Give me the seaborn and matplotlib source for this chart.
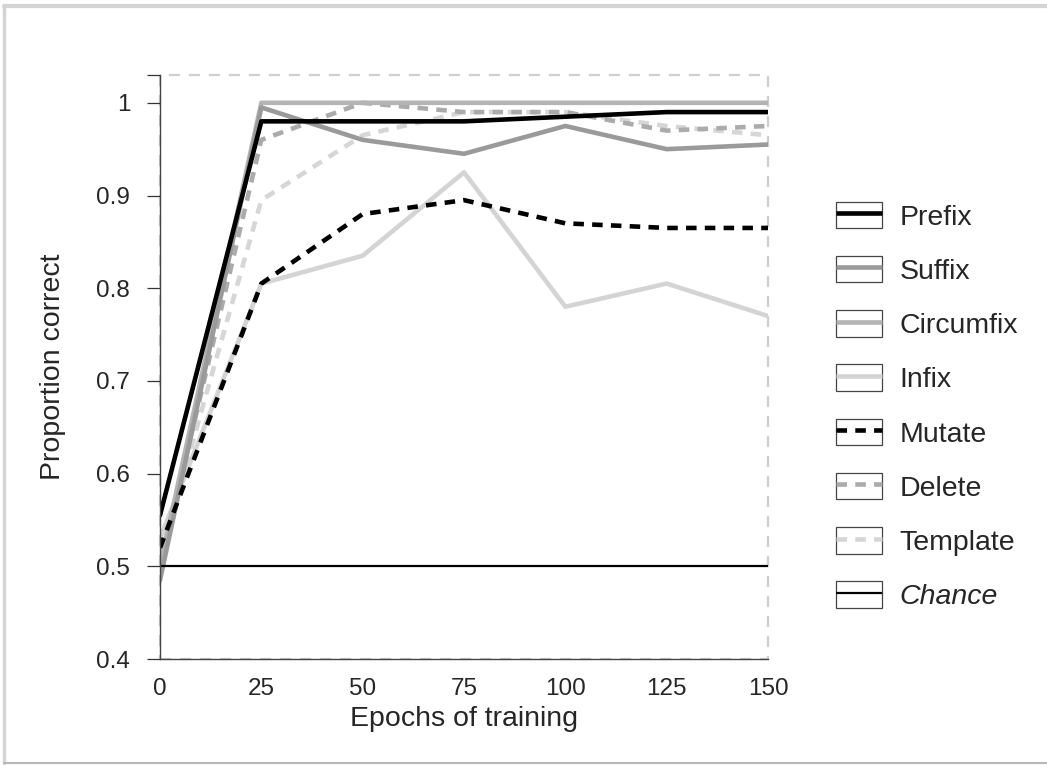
import matplotlib
matplotlib.use("Agg")
import matplotlib.pyplot as plt
from matplotlib.lines import Line2D
from matplotlib.patches import Rectangle
from matplotlib.legend_handler import HandlerLine2D
import seaborn as sns
import pandas as pd

epochs = [0, 25, 50, 75, 100, 125, 150]
prefix = [0.555, 0.98, 0.98, 0.98, 0.985, 0.99, 0.99]
suffix = [0.485, 0.995, 0.96, 0.945, 0.975, 0.95, 0.955]
circumfix = [0.50, 1.0, 1.0, 1.0, 1.0, 1.0, 1.0]
infix = [0.53, 0.805, 0.835, 0.925, 0.78, 0.805, 0.77]
mutate = [0.52, 0.805, 0.88, 0.895, 0.87, 0.865, 0.865]
delete = [0.50, 0.96, 1.0, 0.99, 0.99, 0.97, 0.975]
template = [0.51, 0.895, 0.965, 0.99, 0.99, 0.975, 0.965]
chance_x = [0, 150]
chance_y = [0.5, 0.5]

series_names = ["Prefix", "Suffix", "Circumfix", "Infix", "Mutate", "Delete", "Template"]
series_values = [prefix, suffix, circumfix, infix, mutate, delete, template]
y_ticks = [0.4, 0.5, 0.6, 0.7, 0.8, 0.9, 1.0]
y_tick_labels = ["0.4", "0.5", "0.6", "0.7", "0.8", "0.9", "1"]
x_ticks = [0, 25, 50, 75, 100, 125, 150]

LW = 3.3
dash = (0, (2.3, 1.8))
styles = {
    "Prefix": dict(color="#000000", ls="-"),
    "Suffix": dict(color="#9a9a9a", ls="-"),
    "Circumfix": dict(color="#b4b4b4", ls="-"),
    "Infix": dict(color="#d4d4d4", ls="-"),
    "Mutate": dict(color="#000000", ls=dash),
    "Delete": dict(color="#ababab", ls=dash),
    "Template": dict(color="#d6d6d6", ls=dash),
}

sns.set_theme(style="white")
plt.rcParams["font.family"] = ["Liberation Sans", "DejaVu Sans"]

fig = plt.figure(figsize=(10.47, 7.65), dpi=100)
ax = fig.add_axes([160 / 1047, 1 - 659 / 765, (768 - 160) / 1047, (659 - 75) / 765])

frames = []
for name, vals in zip(series_names, series_values):
    frames.append(pd.DataFrame({"epoch": epochs, "acc": vals, "series": name}))
df = pd.concat(frames, ignore_index=True)

# draw back-to-front so darker lines sit on top of the light ones
draw_order = ["Template", "Infix", "Delete", "Circumfix", "Suffix", "Mutate", "Prefix"]
for name in draw_order:
    st = styles[name]
    sub = df[df["series"] == name]
    sns.lineplot(data=sub, x="epoch", y="acc", ax=ax, color=st["color"],
                 linestyle=st["ls"], linewidth=LW, legend=False)

chance_df = pd.DataFrame({"epoch": chance_x, "acc": chance_y})
sns.lineplot(data=chance_df, x="epoch", y="acc", ax=ax, color="black",
             linewidth=1.6, legend=False)

ax.set_xlim(0, 150)
ax.set_ylim(0.4, 1.03)
ax.set_xticks(x_ticks)
ax.set_xticklabels([str(t) for t in x_ticks])
ax.set_yticks(y_ticks)
ax.set_yticklabels(y_tick_labels)
ax.set_yticks([1.03], minor=True)
ax.tick_params(axis="y", which="both", direction="out", length=9.5, width=0.9,
               color="#333333", left=True, labelsize=17.5, pad=12)
ax.tick_params(axis="x", length=0, labelsize=17.5, pad=14)
ax.set_xlabel("Epochs of training", fontsize=20.5, labelpad=4)
ax.set_ylabel("Proportion correct", fontsize=20.5, labelpad=22)

# frame: dashed light box with solid left/bottom axis lines
for side in ["top", "right"]:
    ax.spines[side].set_visible(False)
for side in ["left", "bottom"]:
    ax.spines[side].set_color("#444444")
    ax.spines[side].set_linewidth(1.0)
box = Rectangle((0, 0), 1, 1, transform=ax.transAxes, fill=False,
                edgecolor="#cfcfcf", linewidth=1.6, linestyle=(0, (5, 4)),
                clip_on=False, zorder=0.5)
ax.add_patch(box)


class BoxedLineHandler(HandlerLine2D):
    def create_artists(self, legend, orig_handle, xdescent, ydescent,
                       width, height, fontsize, trans):
        artists = super().create_artists(legend, orig_handle, xdescent, ydescent,
                                         width, height, fontsize, trans)
        for a in artists:
            a.set_solid_capstyle("butt")
            a.set_dash_capstyle("butt")
        rect = Rectangle((-xdescent, -ydescent), width, height,
                         fill=False, edgecolor="#444444", linewidth=0.9,
                         transform=trans)
        return [rect] + list(artists)


handles = []
for name in series_names:
    st = styles[name]
    handles.append(Line2D([], [], color=st["color"], linestyle=st["ls"], linewidth=LW))
handles.append(Line2D([], [], color="black", linewidth=1.6))
labels = series_names + ["Chance"]

leg = fig.legend(handles, labels, loc="center left",
                 bbox_to_anchor=(836 / 1047, 1 - 406 / 765),
                 frameon=False, fontsize=20.5, handlelength=1.61, handleheight=1.05,
                 labelspacing=0.89, handletextpad=0.63, borderpad=0, borderaxespad=0,
                 handler_map={Line2D: BoxedLineHandler(ypad=0.0)})
leg.get_texts()[-1].set_style("italic")

# thin grey page border
fig.add_artist(Line2D([0.004, 0.004], [0.003, 0.992], transform=fig.transFigure,
                      color="#d4d4d4", linewidth=2.5))
fig.add_artist(Line2D([0.004, 1.0], [0.992, 0.992], transform=fig.transFigure,
                      color="#d4d4d4", linewidth=3))
fig.add_artist(Line2D([0.004, 1.0], [0.003, 0.003], transform=fig.transFigure,
                      color="#b8b8b8", linewidth=1.5))

fig.savefig("out.png", dpi=100)
